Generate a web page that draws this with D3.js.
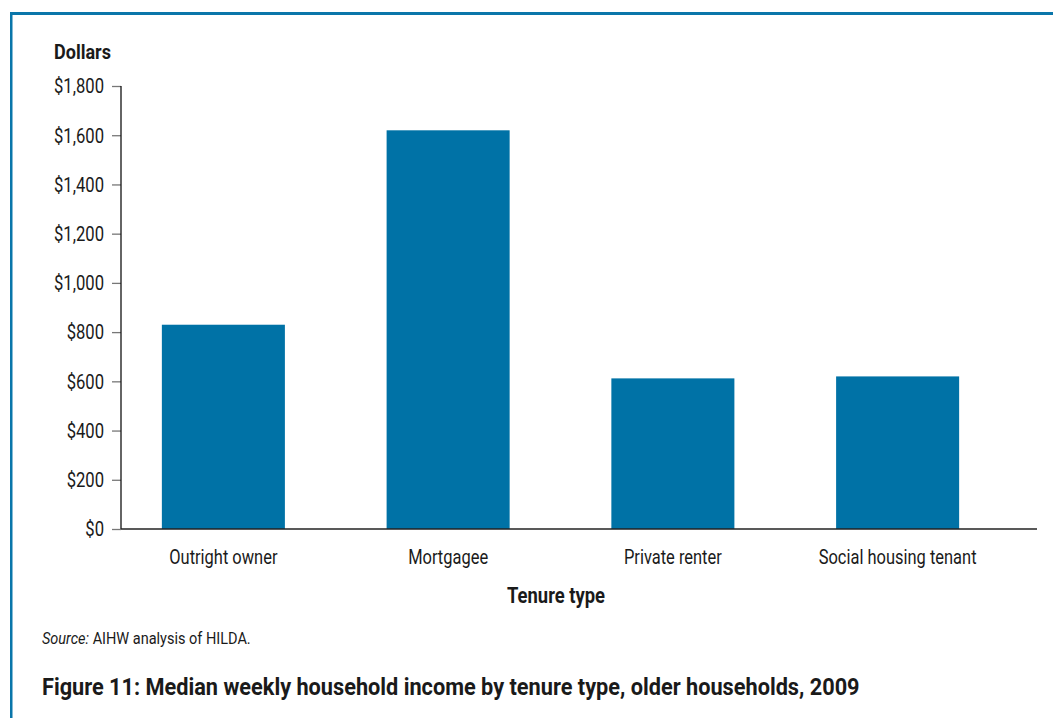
<!DOCTYPE html>
<html><head><meta charset="utf-8">
<script src="https://cdn.jsdelivr.net/npm/d3@7/dist/d3.min.js"></script>
<style>
body{margin:0;background:#fff;}
svg{display:block;}
text{font-family:"Roboto","Noto Sans",sans-serif;fill:#1a1a1a;}
</style></head>
<body><svg id="c" width="1053" height="718"></svg>
<script>
const categories = ["Outright owner","Mortgagee","Private renter","Social housing tenant"];
const values = [830, 1620, 612, 620];
const yTicks = [0,200,400,600,800,1000,1200,1400,1600,1800];

const svg = d3.select("#c");

// horizontally condense a text element about its anchor point
function condense(node, sx){
  const t = d3.select(node);
  const x = +t.attr("x") || 0;
  t.attr("x", 0).attr("transform", `translate(${x},0) scale(${sx},1)`);
}
function fitTo(node, w){
  condense(node, w / node.getComputedTextLength());
}

// frame
svg.append("rect").attr("x",10).attr("y",12).attr("width",1043).attr("height",3).attr("fill","#0a76aa");
svg.append("rect").attr("x",10).attr("y",12).attr("width",2.5).attr("height",706).attr("fill","#0a76aa");

const y = d3.scaleLinear().domain([0,1800]).range([529,86]);
const x = d3.scaleBand().domain(categories).range([111,1010]).paddingInner(0.4526).paddingOuter(0.2263);

svg.selectAll("rect.bar").data(values).enter().append("rect").attr("class","bar")
  .attr("x",(d,i)=>x(categories[i])).attr("width",x.bandwidth())
  .attr("y",d=>y(d)).attr("height",d=>y(0)-y(d)).attr("fill","#0072a6");

const yAxis = svg.append("g").attr("transform","translate(121,0)")
  .call(d3.axisLeft(y).tickValues(yTicks).tickSize(9).tickPadding(8).tickFormat(d=>"$"+d3.format(",")(d)));
yAxis.select(".domain").remove();
yAxis.selectAll(".tick line").attr("stroke","#777").attr("stroke-width",1.3);
const yt = yAxis.selectAll(".tick text").attr("font-size",19.5).attr("fill","#1a1a1a").attr("dy","0.35em").attr("font-family","Roboto");
let ysx = 1;
yt.each(function(d){ if(d===1800) ysx = 50/this.getComputedTextLength(); });
yt.each(function(){ condense(this, ysx); });
svg.append("line").attr("x1",121).attr("x2",121).attr("y1",86).attr("y2",529).attr("stroke","#111").attr("stroke-width",1.3);

const xAxis = svg.append("g").attr("transform","translate(0,529)")
  .call(d3.axisBottom(x).tickSize(0).tickPadding(0));
xAxis.select(".domain").remove();
const xt = xAxis.selectAll(".tick text").attr("font-size",19.5).attr("fill","#1a1a1a").attr("dy",null).attr("y",35).attr("font-family","Roboto");
let xsx = 1;
xt.each(function(d){ if(d==="Social housing tenant") xsx = 158/this.getComputedTextLength(); });
xt.each(function(){ condense(this, xsx); });
svg.append("line").attr("x1",121).attr("x2",1037).attr("y1",529).attr("y2",529).attr("stroke","#222").attr("stroke-width",1.6);

const dl = svg.append("text").attr("x",54).attr("y",59).attr("font-size",21).attr("font-weight","bold").text("Dollars");
fitTo(dl.node(), 57);
const tt = svg.append("text").attr("x",556).attr("y",603).attr("text-anchor","middle").attr("font-size",22).attr("font-weight","bold").text("Tenure type");
fitTo(tt.node(), 98);

const src = svg.append("text").attr("x",42).attr("y",644).attr("font-size",16.5);
src.append("tspan").attr("font-style","italic").text("Source:");
src.append("tspan").text(" AIHW analysis of HILDA.");
fitTo(src.node(), 209);

const ti = svg.append("text").attr("x",42).attr("y",695).attr("font-size",24.5).attr("font-weight","bold").text("Figure 11: Median weekly household income by tenure type, older households, 2009");
fitTo(ti.node(), 818);
</script></body></html>
